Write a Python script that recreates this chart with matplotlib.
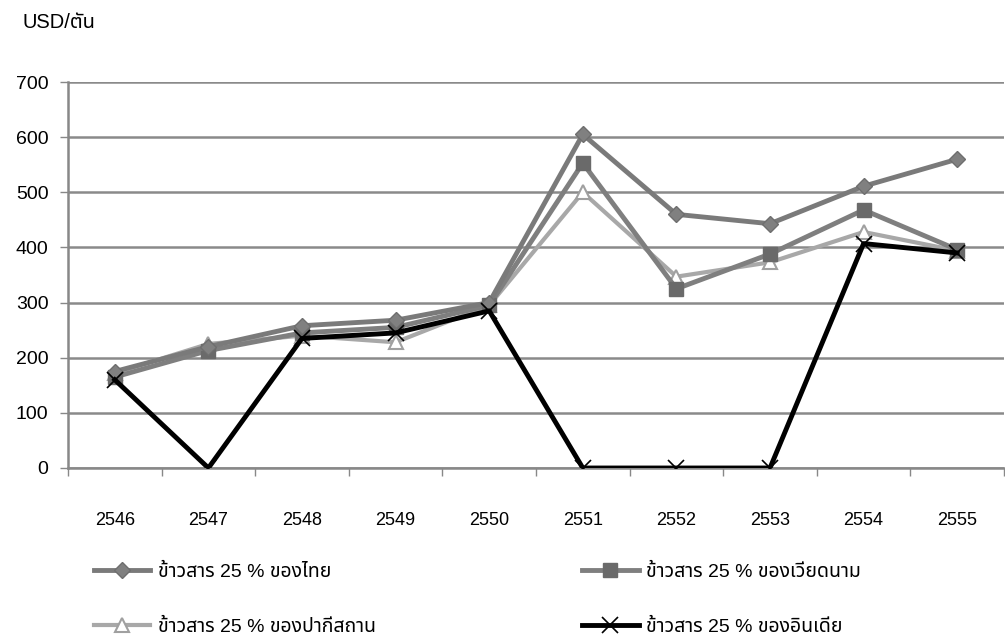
import matplotlib
matplotlib.use('Agg')
import numpy as np
from matplotlib import pyplot as plt

#Data (price of 25% broken rice, USD per ton)
years = ['2546', '2547', '2548', '2549', '2550', '2551', '2552', '2553', '2554', '2555']
thai = [175, 220, 258, 268, 300, 605, 460, 443, 511, 560]
vietnam = [165, 213, 245, 255, 295, 553, 325, 388, 468, 396]
pakistan = [172, 225, 240, 228, 295, 500, 347, 373, 428, 394]
india = [160, 0, 235, 245, 285, 0, 0, 0, 407, 390]
labels = ['ข้าวสาร 25 % ของไทย', 'ข้าวสาร 25 % ของเวียดนาม',
          'ข้าวสาร 25 % ของปากีสถาน', 'ข้าวสาร 25 % ของอินเดีย']
yticks = [0, 100, 200, 300, 400, 500, 600, 700]

#Thai glyphs need a fallback family
plt.rcParams['font.family'] = ['Liberation Sans', 'Noto Sans Thai', 'Sarabun', 'DejaVu Sans']

fig = plt.figure(figsize=(10.05, 6.38), dpi=100)
ax = fig.add_axes([68/1005, 1-468/638, 936/1005, 386/638])

x = np.arange(len(years))
ax.plot(x, thai, color='#7a7a7a', lw=3.5, marker='D', ms=8, mfc='#808080', mec='#6e6e6e', label=labels[0], zorder=4)
ax.plot(x, vietnam, color='#7f7f7f', lw=3.5, marker='s', ms=10, mfc='#6a6a6a', mec='#6a6a6a', label=labels[1], zorder=3)
ax.plot(x, pakistan, color='#a8a8a8', lw=3, marker='^', ms=10, mfc='white', mec='#a0a0a0', mew=1.5, label=labels[2], zorder=2)
ax.plot(x, india, color='black', lw=3.5, marker='x', ms=12, mew=1.2, label=labels[3], zorder=5)

ax.set_xlim(-0.5, len(years) - 0.5)
ax.set_ylim(0, 700)
ax.set_yticks(yticks)
ax.set_yticklabels([str(v) for v in yticks], fontsize=14)
ax.set_xticks(x)
ax.set_xticklabels(years, fontsize=13)
ax.set_xticks(np.arange(len(years) + 1) - 0.5, minor=True)
ax.tick_params(axis='x', which='major', length=0, pad=32)
ax.tick_params(axis='x', which='minor', length=6, width=1, color='#888888', direction='out')
ax.tick_params(axis='y', length=6, width=1, color='#888888', pad=8)
ax.yaxis.grid(True, color='#8a8a8a', lw=1.8)
ax.set_axisbelow(True)
for s in ['top', 'right']:
    ax.spines[s].set_visible(False)
ax.spines['left'].set_color('#888888')
ax.spines['left'].set_linewidth(1.8)
ax.spines['bottom'].set_color('#888888')
ax.spines['bottom'].set_linewidth(1.8)

fig.text(22/1005, 1-22/638, 'USD/ตัน', fontsize=14.5, va='center', ha='left')

#legend, two columns under the x labels
handles, labs = ax.get_legend_handles_labels()
order = [0, 2, 1, 3]
fig.legend([handles[i] for i in order], [labs[i] for i in order], ncol=2,
           loc='upper left', bbox_to_anchor=(94/1005, 1-563/638),
           frameon=False, fontsize=14, handlelength=2.9, handletextpad=0.4,
           columnspacing=10.6, labelspacing=1.95, borderaxespad=0, borderpad=0)

fig.savefig('out.png')
